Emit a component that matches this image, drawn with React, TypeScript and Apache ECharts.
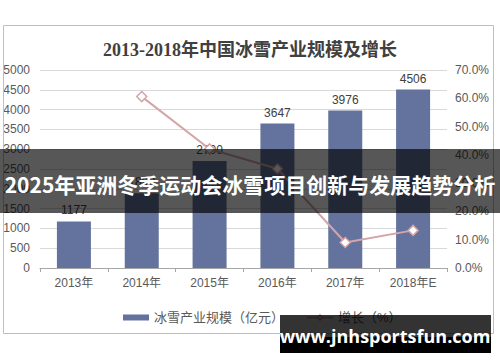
import React, { useEffect, useRef } from "react";
import * as echarts from "echarts";

const categories = ["2013年", "2014年", "2015年", "2016年", "2017年", "2018年E"];
const scaleValues = [1177, 1890, 2700, 3647, 3976, 4506];
const growthValues: (number | string)[] = ["-", 60.6, 42.1, 35.1, 9.0, 13.3];
const leftTicks = { min: 0, max: 5000, interval: 500 };
const rightTicks = { min: 0, max: 70, interval: 10 };
const titleText = "2013-2018年中国冰雪产业规模及增长";
const bannerText = "2025年亚洲冬季运动会冰雪项目创新与发展趋势分析";
const watermarkText = "www.jnhsportsfun.com";
const barName = "冰雪产业规模（亿元）";
const lineName = "增长（%）";

export default function App() {
  const ref = useRef<HTMLDivElement>(null);
  useEffect(() => {
    if (!ref.current) return;
    const chart = echarts.init(ref.current, null, { renderer: "svg" });
    const font = "'Liberation Sans', Arial, 'Noto Sans CJK SC', sans-serif";
    chart.setOption({
      animation: false,
      backgroundColor: "#ffffff",
      title: {
        text: titleText,
        left: "center",
        top: 36,
        textStyle: {
          fontFamily: "'Liberation Serif', 'Times New Roman', 'Noto Sans CJK SC', serif",
          fontSize: 18,
          fontWeight: "bold",
          color: "#404040",
        },
      },
      legend: {
        left: 118,
        top: 306,
        itemGap: 22,
        textStyle: { fontFamily: font, fontSize: 13, color: "#595959" },
        data: [
          { name: barName, icon: "rect", itemStyle: { color: "#64739d" } },
          { name: lineName },
        ],
        itemWidth: 26,
        itemHeight: 6,
      },
      grid: { left: 40, right: 53, top: 70, bottom: 94 },
      xAxis: {
        type: "category",
        data: categories,
        axisLine: { lineStyle: { color: "#a6a6a6" } },
        axisTick: { show: true, length: 4, lineStyle: { color: "#a6a6a6" } },
        axisLabel: { color: "#595959", fontSize: 12, fontFamily: font, margin: 9 },
      },
      yAxis: [
        {
          type: "value",
          ...leftTicks,
          axisLine: { show: false },
          axisTick: { show: false },
          axisLabel: {
            color: "#595959",
            fontSize: 12,
            fontFamily: font,
            margin: 10,
            formatter: (v: number) => String(v),
          },
          splitLine: { lineStyle: { color: "#d9d9d9" } },
        },
        {
          type: "value",
          ...rightTicks,
          axisLine: { show: false },
          axisTick: { show: false },
          axisLabel: {
            color: "#595959",
            fontSize: 12,
            fontFamily: font,
            margin: 8,
            formatter: (v: number) => v.toFixed(1) + "%",
          },
          splitLine: { show: false },
        },
      ],
      series: [
        {
          name: barName,
          type: "bar",
          data: scaleValues,
          barWidth: 34,
          itemStyle: { color: "#64739d" },
          label: {
            show: true,
            position: "top",
            distance: 5,
            color: "#404040",
            fontSize: 12,
            fontFamily: font,
          },
        },
        {
          name: lineName,
          type: "line",
          yAxisIndex: 1,
          data: growthValues,
          symbol: "diamond",
          symbolSize: 10,
          lineStyle: { color: "#d4a5a8", width: 2 },
          itemStyle: { color: "#ffffff", borderColor: "#d4a5a8", borderWidth: 1.5 },
          z: 5,
        },
      ],
      graphic: [
        {
          type: "rect",
          z: 1,
          silent: true,
          shape: { x: 3.5, y: 25.5, width: 490, height: 308 },
          style: { fill: "none", stroke: "#bfbfbf", lineWidth: 1 },
        },
        {
          type: "rect",
          z: 100,
          silent: true,
          shape: { x: 0, y: 149, width: 500, height: 64 },
          style: { fill: "rgba(0,0,0,0.66)" },
        },
        {
          type: "text",
          z: 101,
          silent: true,
          x: 250,
          y: 184,
          style: {
            text: bannerText,
            fill: "#ffffff",
            fontSize: 21,
            fontWeight: "bold",
            fontFamily: "'Noto Sans CJK SC', sans-serif",
            align: "center",
            verticalAlign: "middle",
          },
        },
        {
          type: "rect",
          z: 100,
          silent: true,
          shape: { x: 280, y: 315, width: 211, height: 22 },
          style: { fill: "rgba(0,0,0,0.8)" },
        },
        {
          type: "rect",
          z: 100,
          silent: true,
          shape: { x: 280, y: 337, width: 211, height: 16 },
          style: { fill: "#000000" },
        },
        {
          type: "text",
          z: 101,
          silent: true,
          x: 385,
          y: 336,
          style: {
            text: watermarkText,
            fill: "#ffffff",
            fontSize: 18,
            fontWeight: "bold",
            fontFamily: "'Open Sans', 'Noto Sans', sans-serif",
            align: "center",
            verticalAlign: "middle",
          },
        },
      ],
    });
    return () => chart.dispose();
  }, []);
  return <div ref={ref} style={{ width: 500, height: 362, position: "absolute", left: 0, top: 0 }} />;
}
